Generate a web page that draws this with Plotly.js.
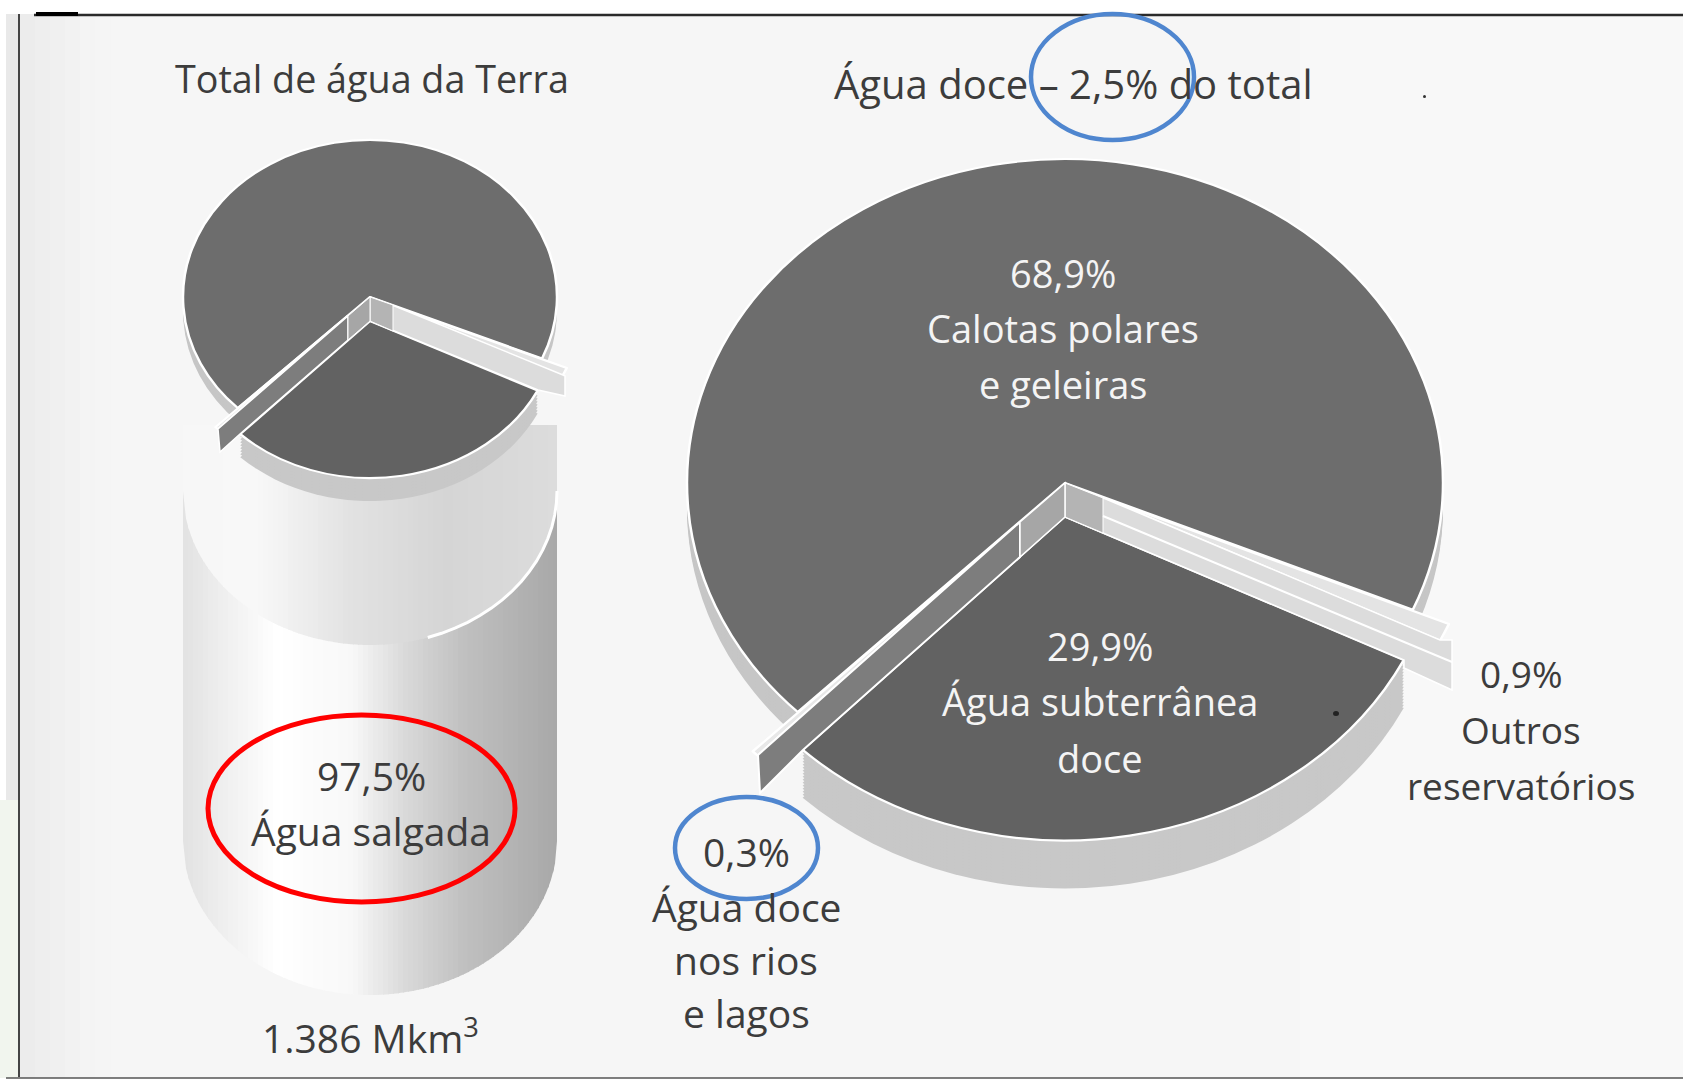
<!DOCTYPE html>
<html><head><meta charset="utf-8">
<script src="https://cdn.plot.ly/plotly-3.0.1.min.js"></script>
<style>html,body{margin:0;padding:0;background:#fff;overflow:hidden}#c{width:1683px;height:1081px}</style>
</head><body><div id="c"></div>
<script>
const W = 1683, H = 1081;
// data
const categories = ['Calotas polares e geleiras', 'Outros reservatórios', 'Água subterrânea doce', 'Água doce nos rios e lagos'];
const freshShares = [68.9, 0.9, 29.9, 0.3];
const sliceColors = ['#6d6d6d', '#e4e4e4', '#626262', '#e8e8e8'];
const startAngle = -135;

const rightPie = {cx: 1065, cy: 483, r: 378, k: 0.857, pull: [0, 0.105, 0.105, 0.17], rimMain: 25, rimFront: 48, frontNudge: -7};
const leftPie  = {cx: 370, cy: 297, r: 187, k: 0.84, pull: [0, 0.145, 0.155, 0.17], rimMain: 14, rimFront: 23, frontNudge: -5};
const rimStep = 3;
const rimMainColor = '#c6c6c6', rimFrontColor = '#c8c8c8', none = 'rgba(0,0,0,0)';

const titles = [['Total de água da Terra', 372, 79, 37.7], ['Água doce – 2,5% do total', 1073, 83, 40]];
const darkLabels = [
  ['0,9%', 1521, 673, 37], ['Outros', 1521, 729, 37], ['reservatórios', 1521, 785, 37],
  ['0,3%', 746, 851, 39], ['Água doce', 746, 906, 39], ['nos rios', 746, 960, 39], ['e lagos', 746, 1012, 39],
  ['97,5%', 371, 775, 39], ['Água salgada', 371, 830, 39], ['1.386 Mkm<sup>3</sup>', 370, 1036, 39]
];
const whiteLabels = [
  ['68,9%', 1063, 273, 38], ['Calotas polares', 1063, 328, 38], ['e geleiras', 1063, 384, 38],
  ['29,9%', 1100, 646, 38], ['Água subterrânea', 1100, 701, 38], ['doce', 1100, 758, 38]
];

const px = x => x / W, py = y => 1 - y / H;
function pieTrace(p, cyShift, colors, lineW) {
  const half = p.r * (1 + Math.max(...p.pull));
  const cy = p.cy + cyShift;
  return {
    type: 'pie', labels: categories, values: freshShares, sort: false, direction: 'clockwise', rotation: startAngle,
    pull: p.pull, textinfo: 'none', showlegend: false, hoverinfo: lineW ? 'label+value' : 'skip',
    marker: {colors: colors, line: {color: '#ffffff', width: lineW}},
    domain: {x: [px(p.cx - half), px(p.cx + half)], y: [py(cy + half), py(cy - half)]}
  };
}
const traces = [], squash = [];
function addPie(p) {
  const rim = (depth, colors) => {
    for (let s = depth; s > 0; s -= rimStep) { traces.push(pieTrace(p, s, colors, 0)); squash.push([p.cy + s, p.k, p.frontNudge]); }
  };
  rim(p.rimFront, [none, none, rimFrontColor, none]);
  rim(p.rimMain, [rimMainColor, none, none, none]);
  traces.push(pieTrace(p, 0, sliceColors, 2.5)); squash.push([p.cy, p.k, p.frontNudge]);
}
addPie(leftPie); addPie(rightPie);

// page furniture
const shapes = [];
function rect(x0, y0, x1, y1, c) { shapes.push({type: 'rect', xref: 'paper', yref: 'paper', x0: px(x0), x1: px(x1), y0: py(y1), y1: py(y0), fillcolor: c, line: {width: 0}, layer: 'below'}); }
function poly(pts, c, lc, lw, layer, closed) {
  const d = pts.map((q, i) => (i ? 'L' : 'M') + px(q[0]).toFixed(5) + ' ' + py(q[1]).toFixed(5)).join(' ') + (closed === false ? '' : ' Z');
  shapes.push({type: 'path', xref: 'paper', yref: 'paper', path: d, fillcolor: closed === false ? none : c, line: {color: lc || none, width: lw || 0}, layer: layer || 'above'});
}
function ellipse(x0, x1, y0, y1, c, w, fill) { shapes.push({type: 'circle', xref: 'paper', yref: 'paper', x0: px(x0), x1: px(x1), y0: py(y1), y1: py(y0), line: {color: c, width: w}, fillcolor: fill || none, layer: 'above'}); }

rect(6, 14, W, H, '#f6f6f6');
rect(6, 14, 19, H, '#e9e9e9');
rect(0, 800, 18, 1078, '#f1f5ee');
[[19, '#ececec'], [35, '#eeeeee'], [50, '#f0f0f0'], [65, '#f2f2f2'], [80, '#f4f4f4'], [95, '#f5f5f5']].forEach(b => rect(b[0], 14, b[0] + 16, H, b[1]));
rect(1300, 14, W, H, '#f8f8f8');
rect(0, 1078, W, H, '#ffffff');

// water cylinder, shaded in vertical strips
const cyl = {cx: 370, rx: 187, ry: 154, capY: 491, bottomY: 841, strip: 5};
const bodyStops = [[0, 226], [0.1, 238], [0.25, 255], [0.45, 248], [0.6, 216], [0.75, 192], [1, 168]];
const capStops = [[0, 247], [0.2, 248], [0.45, 226], [0.7, 213], [1, 220]];
function shade(st, t) {
  for (let i = 1; i < st.length; i++) if (t <= st[i][0]) {
    const a = st[i - 1], b = st[i], v = Math.round(a[1] + (b[1] - a[1]) * (t - a[0]) / (b[0] - a[0]));
    return `rgb(${v},${v},${v})`;
  }
  return '#fff';
}
function strips(topY, centerY, st) {
  for (let x = cyl.cx - cyl.rx; x < cyl.cx + cyl.rx; x += cyl.strip) {
    const x2 = Math.min(x + cyl.strip + 1, cyl.cx + cyl.rx);
    const arc = v => centerY + cyl.ry * Math.sqrt(Math.max(0, 1 - ((v - cyl.cx) / cyl.rx) ** 2));
    const n = [x, x + (x2 - x) / 2, x2];
    const pts = [[x, topY], [x2, topY]].concat(n.slice().reverse().map(v => [v, arc(v)]));
    poly(pts, shade(st, (x + 2 - (cyl.cx - cyl.rx)) / (2 * cyl.rx)), null, 0, 'below');
  }
}
strips(cyl.capY, cyl.bottomY, bodyStops);
strips(425, cyl.capY, capStops);
const capArc = [];
for (let a = 0; a <= 16; a++) { const t = Math.PI * a / 40; capArc.push([cyl.cx + cyl.rx * Math.cos(t), cyl.capY + cyl.ry * Math.sin(t)]); }
poly(capArc, none, '#ffffff', 3, 'below', false);

// walls of the gaps between pulled slices
const wall = '#dcdcdc', wallDark = '#7d7d7d', wallMid = '#a6a6a6', edge = '#ffffff';
poly([[1065,483],[1101,497],[1440,640],[1452,640],[1452,690],[1404,668],[1404,660],[1065,517]], wall, edge, 1.5);
poly([[1065,483],[1103,498],[1103,533],[1065,517]], '#b4b4b4', edge, 1);
poly([[1103,516],[1452,662]], none, edge, 2, 'above', false);
poly([[1020,522],[758,755],[760,793],[803,750],[1020,557]], wallDark, edge, 2);
poly([[1065,483],[1020,522],[1020,557],[1065,517]], wallMid, edge, 1.5);
poly([[370,297],[394.5,306],[563,375],[565,376],[565,396],[538,390],[370,321]], wall, edge, 1.5);
poly([[370,297],[393,305],[393,331],[370,321]], '#b4b4b4', edge, 1);
poly([[348,316],[218,429],[220,452],[240,434],[348,340]], wallDark, edge, 1.5);
poly([[370,297],[348,316],[348,340],[370,321]], wallMid, edge, 1);

// frame of the scan
poly([[19,14],[19,1077]], none, '#444444', 2, 'above', false);
poly([[34,15],[W,15]], none, '#2a2a2a', 2.5, 'above', false);
poly([[6,1078],[W,1078]], none, '#555555', 1.5, 'above', false);
poly([[36,14],[78,14]], none, '#000000', 4, 'above', false);

// specks of the scan
ellipse(1423, 1426, 95, 98, '#333333', 0, '#333333');
ellipse(1333, 1339, 711, 716, '#222222', 0, '#222222');

// hand-drawn highlights
ellipse(208, 515, 715, 902, '#ff0000', 5);
ellipse(1031, 1194, 14, 140, '#4f86cf', 4.5);
ellipse(675, 818, 797, 899, '#4f86cf', 4.5);

const fontFamily = '"Open Sans", sans-serif';
const note = (t, c) => ({text: t[0], x: px(t[1]), y: py(t[2]), xref: 'paper', yref: 'paper', xanchor: 'center', yanchor: 'middle', showarrow: false, font: {family: fontFamily, size: t[3], color: c}});
const annotations = titles.map(t => note(t, '#3c3c3c'))
  .concat(darkLabels.map(t => note(t, '#3c3c3c')))
  .concat(whiteLabels.map(t => note(t, '#f4f4f4')));

const layout = {width: W, height: H, margin: {l: 0, r: 0, t: 0, b: 0}, paper_bgcolor: '#ffffff', plot_bgcolor: '#ffffff', showlegend: false, shapes, annotations};
Plotly.newPlot('c', traces, layout, {displayModeBar: false, staticPlot: true}).then(gd => {
  // the pies lie in perspective: flatten each one vertically about its own centre,
  // and slide the pulled front slice straight down as the drawing does
  gd.querySelectorAll('.pielayer .trace').forEach((g, i) => {
    const [cy, k, nudge] = squash[i];
    g.setAttribute('transform', `translate(0,${cy}) scale(1,${k}) translate(0,${-cy})`);
    const front = g.querySelectorAll('.slice')[2];
    if (front) front.setAttribute('transform', `translate(${nudge},0)`);
  });
});
</script></body></html>
